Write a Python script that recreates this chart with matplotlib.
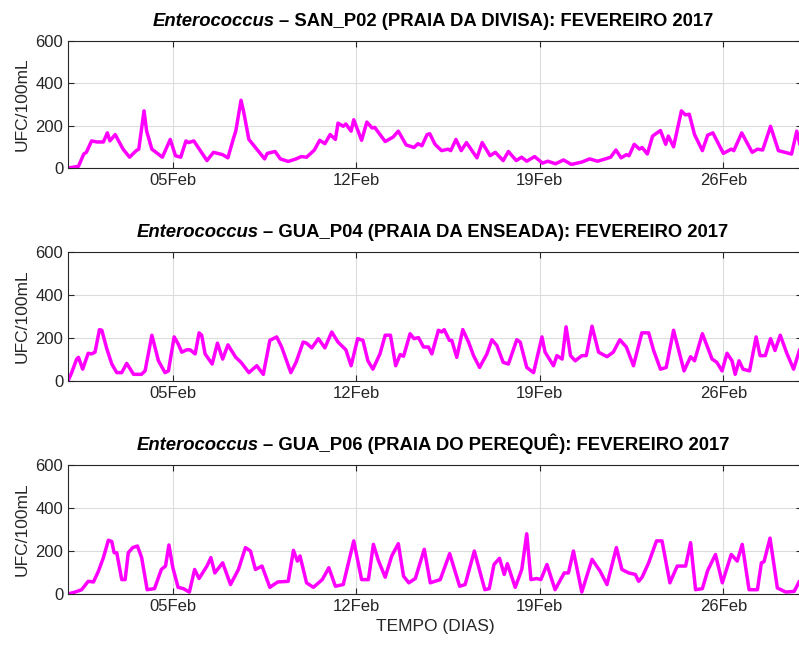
import datetime as dt

import matplotlib
matplotlib.use("Agg")
import matplotlib.dates as mdates
import matplotlib.pyplot as plt
import numpy as np
from matplotlib.offsetbox import AnchoredOffsetbox, HPacker, TextArea

plt.rcParams.update({"font.family": ["Liberation Sans", "DejaVu Sans"]})

START = dt.datetime(2017, 2, 1)
END = dt.datetime(2017, 3, 1)

# day offsets from 01Feb and UFC/100mL values
p02_days = [0, 0.4, 0.6, 0.7, 0.9, 1.1, 1.35, 1.5, 1.6, 1.8, 2.1, 2.35, 2.6, 2.7, 2.9, 3.0,
            3.2, 3.6, 3.9, 4.1, 4.3, 4.5, 4.6, 4.8, 5.3, 5.55, 5.9, 6.1, 6.3, 6.4, 6.6, 6.7,
            6.9, 7.2, 7.5, 7.6, 7.9, 8.1, 8.4, 8.7, 8.9, 9.1, 9.4, 9.6, 9.8, 10.0, 10.2, 10.3,
            10.5, 10.6, 10.8, 10.9, 11.2, 11.4, 11.6, 11.7, 12.1, 12.4, 12.6, 12.9, 13.2, 13.35,
            13.5, 13.7, 13.8, 14.0, 14.25, 14.5, 14.6, 14.8, 15.0, 15.2, 15.6, 15.8, 16.1, 16.3,
            16.6, 16.8, 17.1, 17.3, 17.5, 17.8, 18.1, 18.3, 18.6, 18.9, 19.2, 19.6, 19.9, 20.2,
            20.5, 20.7, 20.9, 21.1, 21.3, 21.4, 21.6, 21.8, 21.9, 22.1, 22.3, 22.6, 22.8, 22.9,
            23.1, 23.4, 23.55, 23.7, 23.9, 24.2, 24.4, 24.6, 25.0, 25.3, 25.4, 25.7, 26.1, 26.3,
            26.5, 26.8, 27.1, 27.6, 27.8, 28.0]
p02_vals = [0, 8, 66, 74, 128, 123, 123, 166, 128, 158, 89, 51, 82, 89, 270, 174,
            89, 51, 135, 58, 51, 128, 120, 128, 35, 74, 63, 48, 135, 174, 320, 266,
            135, 89, 43, 69, 78, 43, 31, 43, 54, 51, 85, 131, 115, 158, 135, 212,
            197, 208, 174, 228, 131, 217, 189, 192, 125, 146, 174, 109, 97, 115,
            105, 158, 162, 112, 82, 89, 82, 135, 82, 120, 48, 120, 58, 74,
            35, 78, 35, 51, 32, 54, 23, 32, 20, 38, 17, 28, 43, 32,
            43, 51, 85, 48, 63, 58, 112, 89, 97, 66, 151, 177, 112, 151,
            100, 270, 251, 254, 158, 82, 155, 166, 69, 89, 82, 166, 74, 89,
            85, 197, 82, 66, 174, 70]

p04_days = [0, 0.14, 0.33, 0.4, 0.56, 0.77, 0.9, 1.03, 1.2, 1.29, 1.48, 1.67, 1.86, 2.05,
            2.24, 2.5, 2.8, 2.94, 3.2, 3.45, 3.7, 3.83, 4.05, 4.2, 4.34, 4.53, 4.66, 4.85,
            5.0, 5.1, 5.23, 5.5, 5.7, 5.9, 6.1, 6.4, 6.6, 6.9, 7.2, 7.45, 7.7, 7.96, 8.15,
            8.5, 8.7, 8.97, 9.1, 9.3, 9.55, 9.8, 10.06, 10.3, 10.6, 10.8, 11.05, 11.25,
            11.44, 11.63, 11.9, 12.1, 12.3, 12.5, 12.67, 12.8, 13.05, 13.2, 13.37, 13.56,
            13.75, 13.88, 14.13, 14.26, 14.35, 14.55, 14.64, 14.83, 15.06, 15.28, 15.47,
            15.7, 15.98, 16.17, 16.36, 16.6, 16.8, 17.12, 17.25, 17.5, 17.76, 18.08, 18.2,
            18.52, 18.65, 18.85, 19.0, 19.17, 19.35, 19.6, 19.77, 19.99, 20.24, 20.56, 20.8,
            21.05, 21.3, 21.57, 21.89, 22.15, 22.34, 22.6, 22.82, 23.1, 23.5, 23.75, 23.9,
            24.2, 24.57, 24.75, 24.95, 25.14, 25.33, 25.45, 25.6, 25.75, 26.0, 26.25, 26.4,
            26.6, 26.8, 26.97, 27.17, 27.43, 27.68, 27.9, 28.0]
p04_vals = [0, 39, 102, 110, 55, 129, 126, 134, 239, 236, 150, 79, 39, 39,
            82, 31, 31, 47, 213, 94, 39, 47, 205, 173, 134, 145, 145, 126,
            224, 213, 126, 79, 176, 102, 168, 110, 87, 39, 71, 31, 189, 205, 158,
            39, 87, 181, 176, 154, 197, 154, 228, 181, 145, 71, 197, 189,
            94, 55, 126, 213, 213, 71, 123, 115, 220, 197, 202, 158,
            158, 126, 236, 228, 239, 189, 189, 110, 239, 181, 118,
            63, 126, 192, 165, 87, 79, 192, 181, 63, 39, 205, 134,
            71, 118, 102, 252, 118, 94, 118, 118, 255, 134, 113, 134,
            192, 158, 71, 224, 224, 142, 55, 63, 236, 47, 113, 94,
            220, 102, 87, 47, 129, 94, 31, 94, 55, 47, 205, 118,
            118, 197, 142, 213, 126, 55, 142, 170]

p06_days = [0, 0.27, 0.52, 0.77, 0.97, 1.16, 1.35, 1.54, 1.67, 1.76, 1.86, 2.05, 2.18, 2.3,
            2.47, 2.65, 2.81, 3.02, 3.3, 3.56, 3.72, 3.85, 4.0, 4.2, 4.4, 4.63, 4.83, 5.0,
            5.3, 5.45, 5.6, 5.9, 6.2, 6.5, 6.77, 6.96, 7.15, 7.4, 7.7, 8.0, 8.4, 8.6, 8.75,
            8.85, 9.1, 9.36, 9.7, 9.95, 10.2, 10.5, 10.9, 11.2, 11.46, 11.65, 11.84, 12.1,
            12.35, 12.6, 12.8, 13.0, 13.25, 13.59, 13.82, 14.2, 14.56, 14.94, 15.15, 15.5,
            15.9, 16.07, 16.25, 16.46, 16.64, 16.76, 17.06, 17.31, 17.5, 17.66, 17.88, 18.04,
            18.27, 18.58, 18.93, 19.09, 19.28, 19.6, 19.99, 20.3, 20.56, 20.92, 21.13, 21.39,
            21.64, 21.77, 21.9, 22.15, 22.45, 22.66, 22.96, 23.24, 23.56, 23.75, 23.94, 24.2,
            24.4, 24.7, 24.96, 25.3, 25.53, 25.72, 25.98, 26.3, 26.45, 26.55, 26.78, 27.06,
            27.38, 27.7, 27.9, 28.0]
p06_vals = [0, 9, 20, 59, 56, 106, 169, 250, 244, 192, 192, 67, 67, 192,
            216, 223, 169, 20, 25, 114, 130, 228, 122, 31, 25, 9, 114, 72,
            130, 169, 98, 145, 44, 114, 216, 200, 114, 130, 31, 56, 59, 203, 153,
            177, 52, 31, 67, 122, 36, 44, 247, 67, 67, 231, 156, 78,
            177, 234, 83, 52, 72, 208, 52, 67, 188, 36, 44, 200,
            20, 25, 137, 166, 91, 141, 31, 114, 280, 67, 72, 67,
            137, 20, 98, 98, 200, 9, 161, 106, 44, 216, 114, 98,
            91, 59, 78, 145, 247, 247, 52, 130, 130, 239, 20, 25,
            109, 184, 52, 184, 153, 231, 20, 20, 145, 150, 260, 28,
            9, 12, 59, 60]

stations = ["SAN_P02 (PRAIA DA DIVISA)", "GUA_P04 (PRAIA DA ENSEADA)",
            "GUA_P06 (PRAIA DO PEREQUÊ)"]
series = [(p02_days, p02_vals), (p04_days, p04_vals), (p06_days, p06_vals)]

fig = plt.figure(figsize=(7.99, 6.45), dpi=100)
W, H = 799, 645
tops = [41, 252, 465]
bottoms = [168, 381, 594]
x0, x1 = 68, 802
TXT = "#262626"

for i, ((days, vals), name) in enumerate(zip(series, stations)):
    ax = fig.add_axes([x0 / W, 1 - bottoms[i] / H, (x1 - x0) / W, (bottoms[i] - tops[i]) / H])
    t = [START + dt.timedelta(days=d) for d in days]
    ax.plot(t, vals, color="#ff00ff", lw=2.5, solid_joinstyle="round", solid_capstyle="round")
    ax.set_xlim(START, END)
    ax.set_ylim(0, 600)
    ax.set_yticks([0, 200, 400, 600])
    ax.xaxis.set_major_locator(mdates.DayLocator(bymonthday=[5, 12, 19, 26]))
    ax.xaxis.set_major_formatter(mdates.DateFormatter("%d%b"))
    ax.grid(True, color="#dcdcdc", lw=0.8)
    ax.set_axisbelow(True)
    ax.tick_params(direction="in", top=True, right=True, length=4, width=0.8,
                   colors=TXT, labelsize=12, labelcolor=TXT)
    for s in ax.spines.values():
        s.set_color(TXT)
        s.set_linewidth(0.8)
    ax.set_ylabel("UFC/100mL", fontsize=12.5, color=TXT, labelpad=4)

    # title: italic bold species name followed by bold station text
    parts = [TextArea("Enterococcus", textprops=dict(fontsize=13.3, fontweight="bold",
                                                      fontstyle="italic", color="black")),
             TextArea("– " + name + ": FEVEREIRO 2017",
                      textprops=dict(fontsize=13.3, fontweight="bold", color="black"))]
    box = HPacker(children=parts, align="baseline", pad=0, sep=3)
    anchored = AnchoredOffsetbox(loc="lower center", child=box, pad=0, frameon=False,
                                 bbox_to_anchor=(0.5 - 0.003, 1.085),
                                 bbox_transform=ax.transAxes, borderpad=0)
    ax.add_artist(anchored)

    if i == 2:
        ax.set_xlabel("TEMPO (DIAS)", fontsize=12.5, color=TXT, labelpad=4)

fig.savefig("out.png", dpi=100)
